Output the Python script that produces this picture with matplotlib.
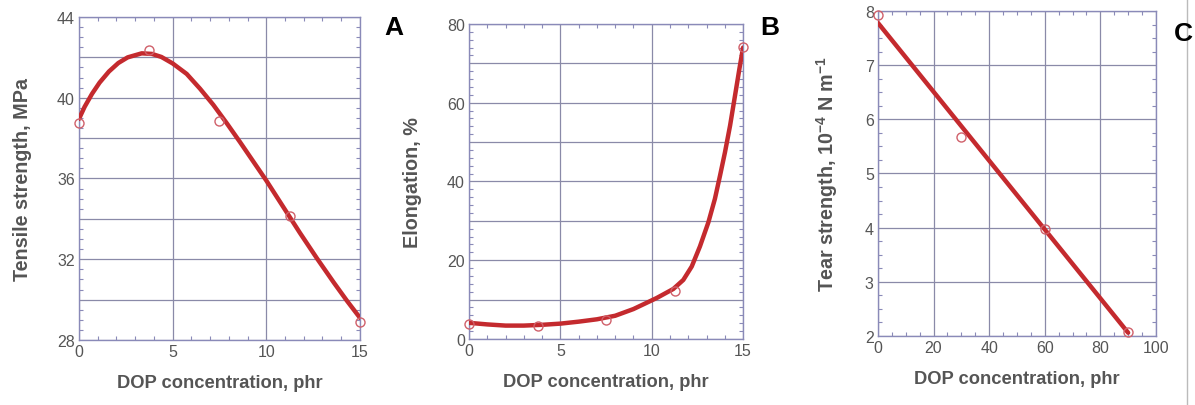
import numpy as np
import matplotlib
matplotlib.use("Agg")
import matplotlib.pyplot as plt
from matplotlib.ticker import MultipleLocator, FuncFormatter

# Measured points (DOP content, phr)
dop_ab = [0, 3.75, 7.5, 11.25, 15]
tensile = [38.75, 42.38, 38.87, 34.15, 28.9]
elongation = [3.8, 3.2, 4.8, 12.1, 74.1]

dop_c = [0, 30, 60, 90]
tear = [7.92, 5.68, 3.98, 2.08]

# Smoothed trend curves
trend_a_x = [0, 0.3, 0.7, 1.1, 1.6, 2.1, 2.6, 3.35, 3.9, 4.4, 5.0, 5.75, 6.46, 7.17,
             7.88, 8.6, 9.3, 10, 10.9, 11.8, 12.7, 13.6, 14.3, 15]
trend_a_y = [38.95, 39.55, 40.2, 40.75, 41.3, 41.72, 42.0, 42.2, 42.17, 42.02, 41.7, 41.18,
             40.45, 39.65, 38.75, 37.8, 36.85, 35.9, 34.6, 33.3, 32.05, 30.85, 29.95, 29.1]
trend_b_x = [0, 1, 2, 3, 4, 5, 6, 7, 8, 9, 10.27, 11.18, 11.73, 12.19, 12.64, 13.1,
             13.46, 13.74, 14.01, 14.29, 14.56, 14.8, 15]
trend_b_y = [4.1, 3.7, 3.4, 3.4, 3.6, 3.9, 4.4, 5.0, 5.9, 7.6, 10.4, 12.7, 15.0, 18.4,
             23.5, 29.6, 35.6, 41.5, 47.4, 54.2, 61.8, 68.6, 74.0]
trend_c_x = [0, 90]
trend_c_y = [7.78, 2.06]

RED = "#c42a2e"
MARK = "#d0606a"
FRAME = "#8a8ab8"
GRID = "#8a8aa8"
TXT = "#555555"
FONT = ["Liberation Sans", "DejaVu Sans"]

plt.rcParams["font.family"] = FONT
plt.rcParams["mathtext.fontset"] = "custom"
plt.rcParams["mathtext.rm"] = "Liberation Sans:bold"
plt.rcParams["mathtext.default"] = "rm"

fig = plt.figure(figsize=(11.95, 4.06), dpi=100)


def style_axes(ax, xlim, ylim, xgrid, ygrid, ylab_step, xminor, yminor, ylabel):
    ax.set_xlim(*xlim)
    ax.set_ylim(*ylim)
    ax.xaxis.set_major_locator(MultipleLocator(xgrid))
    ax.yaxis.set_major_locator(MultipleLocator(ygrid))
    ax.xaxis.set_minor_locator(MultipleLocator(xminor))
    ax.yaxis.set_minor_locator(MultipleLocator(yminor))
    ax.yaxis.set_major_formatter(FuncFormatter(
        lambda v, p: f"{v:g}" if abs(v / ylab_step - round(v / ylab_step)) < 1e-6 else ""))
    ax.xaxis.set_major_formatter(FuncFormatter(lambda v, p: f"{v:g}"))
    ax.grid(True, which="major", color=GRID, linewidth=0.9)
    ax.tick_params(which="both", direction="in", top=True, right=True,
                   color=FRAME, labelcolor=TXT, labelsize=11.5)
    ax.tick_params(which="major", length=0, pad=3)
    ax.tick_params(which="minor", length=3, width=0.8)
    for s in ax.spines.values():
        s.set_color(FRAME)
        s.set_linewidth(1.0)
    ax.set_xlabel("DOP concentration, phr", color=TXT, fontsize=13.2, fontweight="bold", labelpad=11)
    ax.set_ylabel(ylabel, color=TXT, fontsize=14.2, fontweight="bold", labelpad=18)


# Panel A: tensile strength
ax_a = fig.add_axes([0.0661, 0.1601, 0.2351, 0.7956])
ax_a.plot(trend_a_x, trend_a_y, color=RED, linewidth=3.2, solid_capstyle="round",
          solid_joinstyle="round", zorder=3)
ax_a.plot(dop_ab, tensile, "o", mfc="none", mec=MARK, ms=6.5, mew=1.0, zorder=4, clip_on=False)
style_axes(ax_a, (0, 15), (28, 44), 5, 2, 4, 1, 0.5, "Tensile strength, MPa")

# Panel B: elongation
ax_b = fig.add_axes([0.3925, 0.1626, 0.2293, 0.7759])
ax_b.plot(trend_b_x, trend_b_y, color=RED, linewidth=3.2, solid_capstyle="round",
          solid_joinstyle="round", zorder=3)
ax_b.plot(dop_ab, elongation, "o", mfc="none", mec=MARK, ms=6.5, mew=1.0, zorder=4, clip_on=False)
style_axes(ax_b, (0, 15), (0, 80), 5, 10, 20, 1, 2, "Elongation, %")

# Panel C: tear strength
ax_c = fig.add_axes([0.7347, 0.170, 0.2326, 0.8005])
ax_c.plot(trend_c_x, trend_c_y, color=RED, linewidth=3.2, solid_capstyle="round", zorder=3)
ax_c.plot(dop_c, tear, "o", mfc="none", mec=MARK, ms=6.5, mew=1.0, zorder=4, clip_on=False)
style_axes(ax_c, (0, 100), (2, 8), 20, 1, 1, 5, 0.25,
           r"Tear strength, 10$^{-4}$ N m$^{-1}$")

# Panel letters
for x, y, s in [(0.322, 0.915, "A"), (0.636, 0.915, "B"), (0.982, 0.90, "C")]:
    fig.text(x, y, s, fontsize=19, fontweight="bold", color="black", ha="left", va="baseline")

# thin divider at the right edge
fig.add_artist(plt.Line2D([0.9935, 0.9935], [0, 1], color="#bbbbbb", linewidth=1.0))

fig.savefig("out.png", dpi=100)
